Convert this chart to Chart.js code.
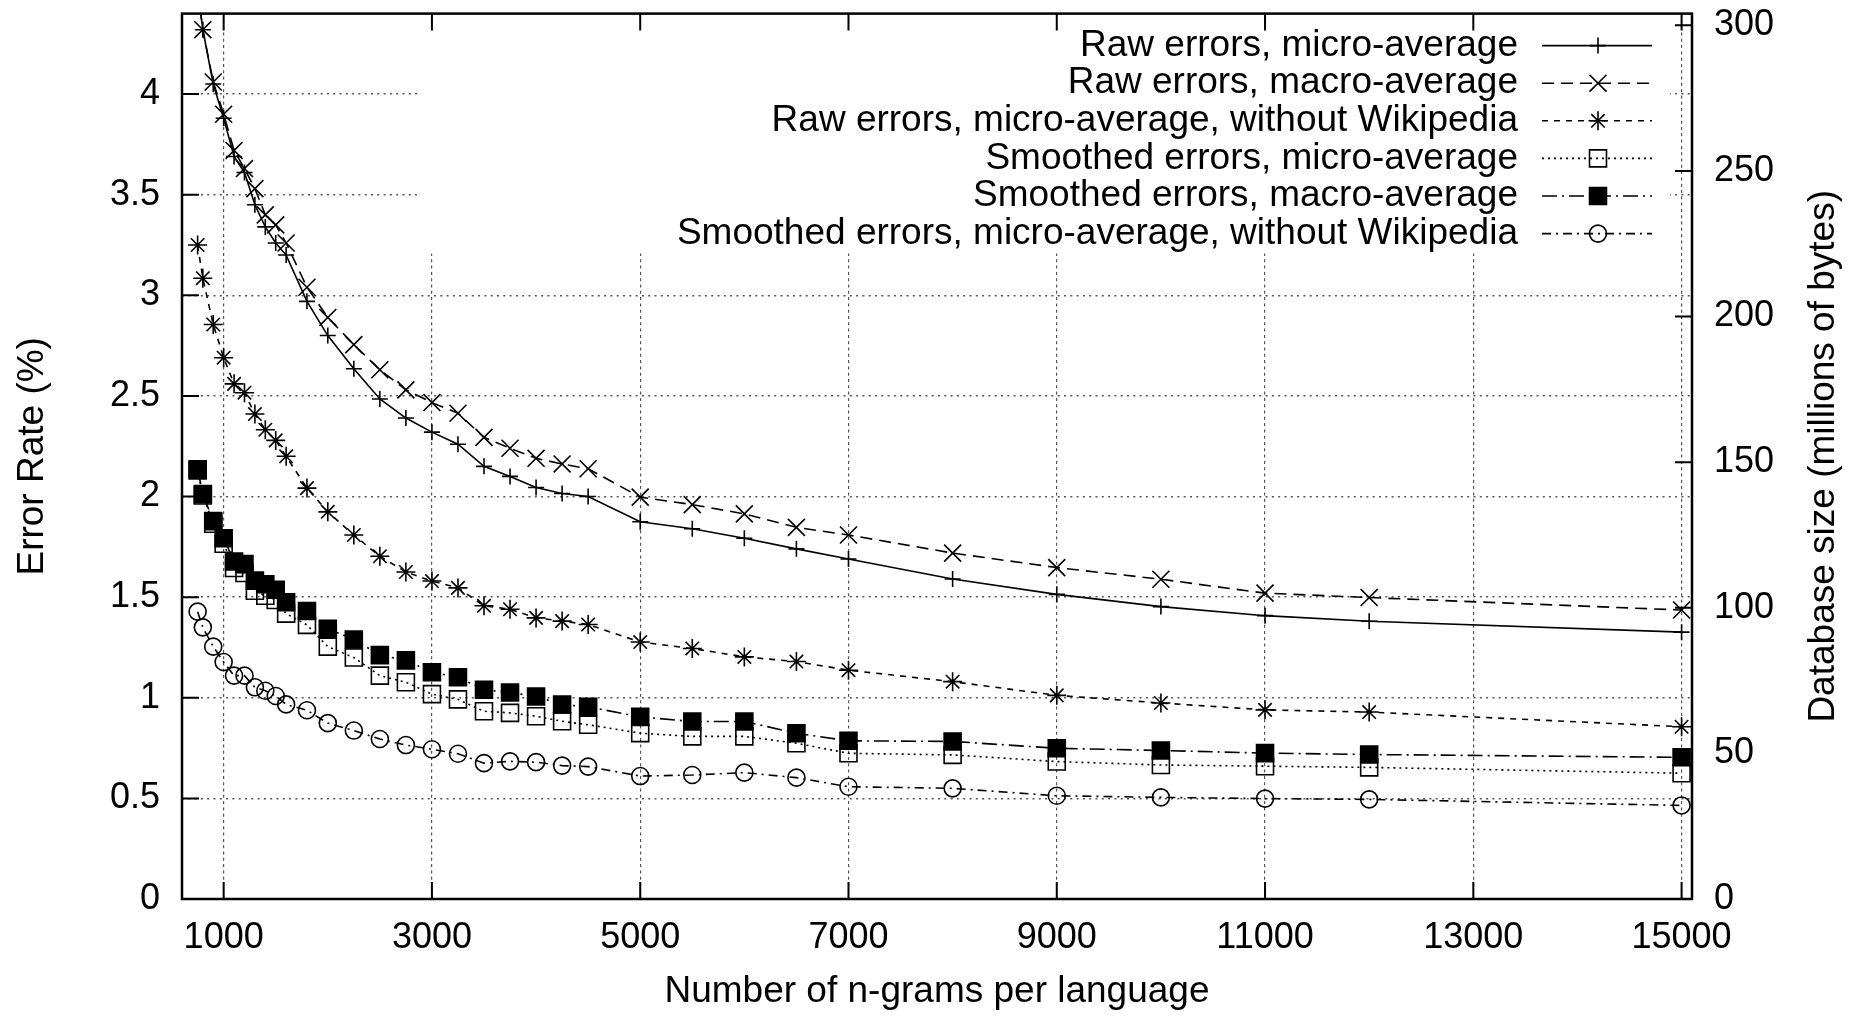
<!DOCTYPE html>
<html>
<head>
<meta charset="utf-8">
<script src="https://cdn.jsdelivr.net/npm/chart.js@4/dist/chart.umd.min.js"></script>
<style>
  html, body { margin: 0; padding: 0; background: #fff; }
  #wrap { width: 1863px; height: 1016px; position: relative; }
</style>
</head>
<body>
<div id="wrap"><canvas id="myChart"></canvas></div>
<script>
let ngrams = [750, 800, 900, 1000, 1100, 1200, 1300, 1400, 1500, 1600, 1800, 2000, 2250, 2500, 2750, 3000,
    3250, 3500, 3750, 4000, 4250, 4500, 5000, 5500, 6000, 6500, 7000, 8000, 9000, 10000, 11000, 12000, 15000];

let rawMicro = [4.52, 4.32, 4.05, 3.88, 3.69, 3.61, 3.45, 3.34, 3.26, 3.20, 2.97, 2.80, 2.635, 2.485, 2.39, 2.32,
    2.26, 2.15, 2.10, 2.045, 2.015, 2.0, 1.875, 1.84, 1.793, 1.74, 1.69, 1.59, 1.514, 1.453, 1.408, 1.38, 1.326];
let rawMacro = [4.52, 4.32, 4.06, 3.90, 3.72, 3.63, 3.53, 3.40, 3.35, 3.26, 3.04, 2.89, 2.755, 2.63, 2.53, 2.467,
    2.414, 2.294, 2.24, 2.19, 2.162, 2.138, 1.997, 1.96, 1.914, 1.847, 1.809, 1.719, 1.647, 1.589, 1.52, 1.498, 1.436];
let rawSinWiki = [3.25, 3.085, 2.855, 2.69, 2.56, 2.516, 2.41, 2.332, 2.279, 2.2, 2.042, 1.924, 1.809, 1.703, 1.625, 1.58,
    1.546, 1.457, 1.44, 1.397, 1.381, 1.364, 1.277, 1.245, 1.203, 1.18, 1.137, 1.08, 1.012, 0.974, 0.94, 0.929, 0.856];
let smoothMicro = [2.13, 2.005, 1.865, 1.765, 1.645, 1.62, 1.532, 1.507, 1.486, 1.418, 1.362, 1.254, 1.2, 1.11, 1.077, 1.018,
    0.992, 0.933, 0.925, 0.908, 0.883, 0.866, 0.824, 0.808, 0.808, 0.774, 0.724, 0.716, 0.683, 0.666, 0.66, 0.654, 0.625];
let smoothMacro = [2.136, 2.012, 1.878, 1.793, 1.677, 1.664, 1.582, 1.564, 1.537, 1.475, 1.431, 1.343, 1.29, 1.212, 1.186, 1.127,
    1.102, 1.04, 1.026, 1.006, 0.967, 0.955, 0.905, 0.882, 0.882, 0.824, 0.786, 0.783, 0.749, 0.738, 0.725, 0.718, 0.704];
let smoothSinWiki = [1.428, 1.35, 1.254, 1.178, 1.11, 1.11, 1.052, 1.035, 1.009, 0.967, 0.938, 0.874, 0.837, 0.795, 0.765, 0.744,
    0.722, 0.675, 0.684, 0.68, 0.663, 0.658, 0.611, 0.616, 0.628, 0.603, 0.558, 0.55, 0.513, 0.505, 0.499, 0.495, 0.465];

let nombres = [
    'Raw errors, micro-average',
    'Raw errors, macro-average',
    'Raw errors, micro-average, without Wikipedia',
    'Smoothed errors, micro-average',
    'Smoothed errors, macro-average',
    'Smoothed errors, micro-average, without Wikipedia'
];

let xTicks = [1000, 3000, 5000, 7000, 9000, 11000, 13000, 15000];
let yTicks = [0, 0.5, 1, 1.5, 2, 2.5, 3, 3.5, 4];
let y2Ticks = [0, 50, 100, 150, 200, 250, 300];

let fuente = "'Liberation Sans', Arial, Helvetica, sans-serif";

let puntos = function (serie) {
    return ngrams.map((n, i) => ({ x: n, y: serie[i] }));
}

let serie = function (i, valores, estilo, radio, relleno, guiones) {
    return {
        label: nombres[i],
        data: puntos(valores),
        borderColor: '#000',
        borderWidth: 1.6,
        borderDash: guiones,
        pointStyle: estilo,
        pointRadius: radio,
        pointBorderWidth: 1.6,
        pointBorderColor: '#000',
        pointBackgroundColor: relleno,
        tension: 0,
        fill: false
    };
}

// no extra room for the tick labels, the plot box is fixed
let sinPadding = function (scale) {
    scale.paddingTop = 0;
    scale.paddingBottom = 0;
    scale.paddingLeft = 0;
    scale.paddingRight = 0;
}

// white key box over the grid, like gnuplot's opaque key
let cajaLeyenda = {
    id: 'cajaLeyenda',
    beforeDatasetsDraw(chart) {
        let ctx = chart.ctx;
        let ca = chart.chartArea;
        ctx.save();
        ctx.fillStyle = '#fff';
        ctx.fillRect(417, ca.top + 1.5, 1670 - 417, 252 - ca.top);
        ctx.restore();
    }
};

// frame, inward ticks, right title and key
let marco = {
    id: 'marco',
    afterDraw(chart) {
        let ctx = chart.ctx;
        let ca = chart.chartArea;
        let sx = chart.scales.x;
        let sy = chart.scales.y;
        let sy2 = chart.scales.y2;
        let largo = 17;
        ctx.save();
        ctx.strokeStyle = '#000';
        ctx.lineWidth = 2;
        ctx.setLineDash([]);
        ctx.beginPath();
        xTicks.forEach((v) => {
            let px = sx.getPixelForValue(v);
            ctx.moveTo(px, ca.bottom);
            ctx.lineTo(px, ca.bottom - largo);
            ctx.moveTo(px, ca.top);
            ctx.lineTo(px, ca.top + largo);
        });
        yTicks.forEach((v) => {
            let py = sy.getPixelForValue(v);
            ctx.moveTo(ca.left, py);
            ctx.lineTo(ca.left + largo, py);
        });
        y2Ticks.forEach((v) => {
            let py = sy2.getPixelForValue(v);
            ctx.moveTo(ca.right, py);
            ctx.lineTo(ca.right - largo, py);
        });
        ctx.stroke();
        ctx.lineWidth = 2.5;
        ctx.strokeRect(ca.left, ca.top, ca.right - ca.left, ca.bottom - ca.top);

        // right axis title, reading upwards
        ctx.fillStyle = '#000';
        ctx.font = '37px ' + fuente;
        ctx.textAlign = 'center';
        ctx.textBaseline = 'middle';
        ctx.translate(1824, (ca.top + ca.bottom) / 2);
        ctx.rotate(-Math.PI / 2);
        ctx.fillText('Database size (millions of bytes)', 0, 0);
        ctx.restore();

        // key
        ctx.save();
        ctx.font = '37px ' + fuente;
        ctx.textAlign = 'right';
        ctx.textBaseline = 'middle';
        ctx.fillStyle = '#000';
        chart.data.datasets.forEach((ds, i) => {
            let y = ca.top + 32 + i * 37.6;
            ctx.fillText(ds.label, 1518, y);
            ctx.strokeStyle = '#000';
            ctx.lineWidth = ds.borderWidth;
            ctx.setLineDash(ds.borderDash || []);
            ctx.beginPath();
            ctx.moveTo(1542, y);
            ctx.lineTo(1652, y);
            ctx.stroke();
            ctx.setLineDash([]);
            ctx.lineWidth = ds.pointBorderWidth;
            ctx.fillStyle = ds.pointBackgroundColor;
            Chart.helpers.drawPoint(ctx, {
                pointStyle: ds.pointStyle,
                radius: ds.pointRadius,
                borderWidth: ds.pointBorderWidth,
                rotation: 0
            }, 1598, y);
            ctx.fillStyle = '#000';
        });
        ctx.restore();
    }
};

let ctx = document.getElementById('myChart').getContext('2d');

var chart = new Chart(ctx, {
    type: 'line',
    data: {
        datasets: [
            serie(0, rawMicro, 'cross', 8, 'rgba(0,0,0,0)', []),
            serie(1, rawMacro, 'crossRot', 12, 'rgba(0,0,0,0)', [12, 7]),
            serie(2, rawSinWiki, 'star', 9.5, 'rgba(0,0,0,0)', [6, 6]),
            serie(3, smoothMicro, 'rect', 12, 'rgba(0,0,0,0)', [2, 4]),
            serie(4, smoothMacro, 'rect', 12, '#000', [15, 5, 2, 5]),
            serie(5, smoothSinWiki, 'circle', 8.5, 'rgba(0,0,0,0)', [9, 5, 2, 5])
        ]
    },
    options: {
        responsive: true,
        maintainAspectRatio: false,
        devicePixelRatio: 1,
        animation: false,
        layout: { padding: { top: 12, left: 0, right: 0, bottom: 0 } },
        plugins: {
            legend: { display: false },
            tooltip: { enabled: false }
        },
        scales: {
            x: {
                type: 'linear',
                position: 'bottom',
                min: 600,
                max: 15100,
                afterBuildTicks: (scale) => { scale.ticks = xTicks.map(v => ({ value: v })); },
                afterFit: (scale) => { scale.height = 117; sinPadding(scale); },
                grid: { color: '#555', lineWidth: 1.2, drawTicks: false },
                border: { display: false, dash: [3, 3.3] },
                ticks: {
                    color: '#000',
                    font: { family: fuente, size: 36 },
                    padding: 17,
                    maxRotation: 0,
                    autoSkip: false,
                    callback: (v) => String(v)
                },
                title: {
                    display: true,
                    text: 'Number of n-grams per language',
                    color: '#000',
                    font: { family: fuente, size: 37 },
                    padding: { top: 0, bottom: 2 }
                }
            },
            y: {
                type: 'linear',
                position: 'left',
                min: 0,
                max: 4.4,
                afterBuildTicks: (scale) => { scale.ticks = yTicks.map(v => ({ value: v })); },
                afterFit: (scale) => { scale.width = 182; sinPadding(scale); },
                grid: { color: '#555', lineWidth: 1.4, drawTicks: false },
                border: { display: false, dash: [2, 4.3] },
                ticks: {
                    color: '#000',
                    font: { family: fuente, size: 36 },
                    padding: 22,
                    callback: (v) => String(v)
                },
                title: {
                    display: true,
                    text: 'Error Rate (%)',
                    color: '#000',
                    font: { family: fuente, size: 37 },
                    padding: { top: 11, bottom: 0 }
                }
            },
            y2: {
                type: 'linear',
                position: 'right',
                min: 0,
                max: 304,
                afterBuildTicks: (scale) => { scale.ticks = y2Ticks.map(v => ({ value: v })); },
                afterFit: (scale) => { scale.width = 171; sinPadding(scale); },
                grid: { display: false, drawOnChartArea: false, drawTicks: false },
                border: { display: false },
                ticks: {
                    color: '#000',
                    font: { family: fuente, size: 36 },
                    padding: 22,
                    callback: (v) => String(v)
                }
            }
        }
    },
    plugins: [cajaLeyenda, marco]
});
</script>
</body>
</html>
